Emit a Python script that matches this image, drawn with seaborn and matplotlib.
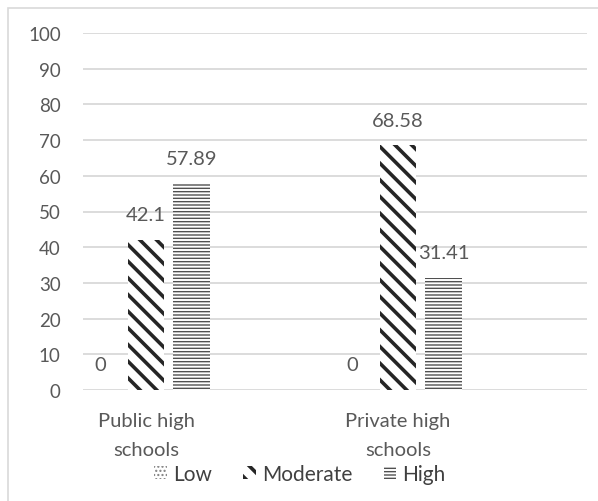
import matplotlib
matplotlib.use("Agg")
import matplotlib.pyplot as plt
from matplotlib.patches import Patch, Rectangle
import pandas as pd
import seaborn as sns

# School types and stress levels
schools = ["Public high\nschools", "Private high\nschools"]
levels = ["Low", "Moderate", "High"]
low = [0, 0]
moderate = [42.1, 68.58]
high = [57.89, 31.41]
y_ticks = [0, 10, 20, 30, 40, 50, 60, 70, 80, 90, 100]

sns.set_style("white")
plt.rcParams["font.family"] = ["Lato", "DejaVu Sans"]

rows = []
for i, s in enumerate(schools):
    for lvl, vals in zip(levels, [low, moderate, high]):
        rows.append({"school": s, "level": lvl, "value": vals[i]})
df = pd.DataFrame(rows)

# two empty slots keep the category spacing of the original layout
order = [schools[0], " ", schools[1], "  "]

fig = plt.figure(figsize=(5.98, 5.02), dpi=100)
ax = fig.add_axes([83 / 598, 1 - 391 / 502, (587 - 83) / 598, (391 - 34) / 502])

sns.barplot(data=df, x="school", y="value", hue="level", order=order,
            hue_order=levels, width=1.083, gap=0.2, ax=ax,
            palette=["white"] * 3, legend=False, errorbar=None)

hatch_styles = {
    "Low": ("....", "#7f7f7f", 1.0),
    "Moderate": ("\\\\", "#262626", 2.6),
    "High": ("-----", "#505050", 1.0),
}


def style_patch(p, lvl):
    h, c, lw = hatch_styles[lvl]
    p.set_facecolor("white")
    p.set_edgecolor(c)
    p.set_linewidth(0)
    p.set_hatch(h)
    if hasattr(p, "set_hatch_linewidth"):
        p.set_hatch_linewidth(lw)


for container, lvl in zip(ax.containers, levels):
    for p in container:
        style_patch(p, lvl)
        v = p.get_height()
        ax.annotate(f"{v:g}", (p.get_x() + p.get_width() / 2, v),
                    xytext=(0, 18), textcoords="offset points",
                    ha="center", va="center", fontsize=14.5,
                    color="#595959")

ax.set_ylim(0, 100)
ax.set_xlim(-0.5, 3.5)
ax.set_yticks(y_ticks)
ax.yaxis.grid(True, color="#d9d9d9", linewidth=1.3)
ax.set_axisbelow(True)
for sp in ax.spines.values():
    sp.set_visible(False)
ax.tick_params(axis="both", length=0, labelcolor="#595959")
ax.tick_params(axis="y", pad=16, labelsize=13.5)
ax.tick_params(axis="x", pad=16, labelsize=14.5)
ax.set_xlabel("")
ax.set_ylabel("")
for t in ax.get_xticklabels():
    t.set_linespacing(1.85)

handles = [Patch(facecolor="white", edgecolor=hatch_styles[l][1],
                 hatch=hatch_styles[l][0], linewidth=0, label=l) for l in levels]
leg = fig.legend(handles=handles, loc="center", bbox_to_anchor=(300 / 598, 1 - 475 / 502),
                 ncol=3, frameon=False, fontsize=15, labelcolor="#404040",
                 handlelength=0.6, handleheight=0.6, handletextpad=0.3,
                 columnspacing=1.5)
for p, lvl in zip(leg.get_patches(), levels):
    style_patch(p, lvl)

# light outer chart border
fig.patches.append(Rectangle((8 / 598, -0.05), 1.1, 1 - 9 / 502 + 0.05,
                             transform=fig.transFigure, fill=False,
                             edgecolor="#d9d9d9", linewidth=1.2))

fig.savefig("out.png", dpi=100)
